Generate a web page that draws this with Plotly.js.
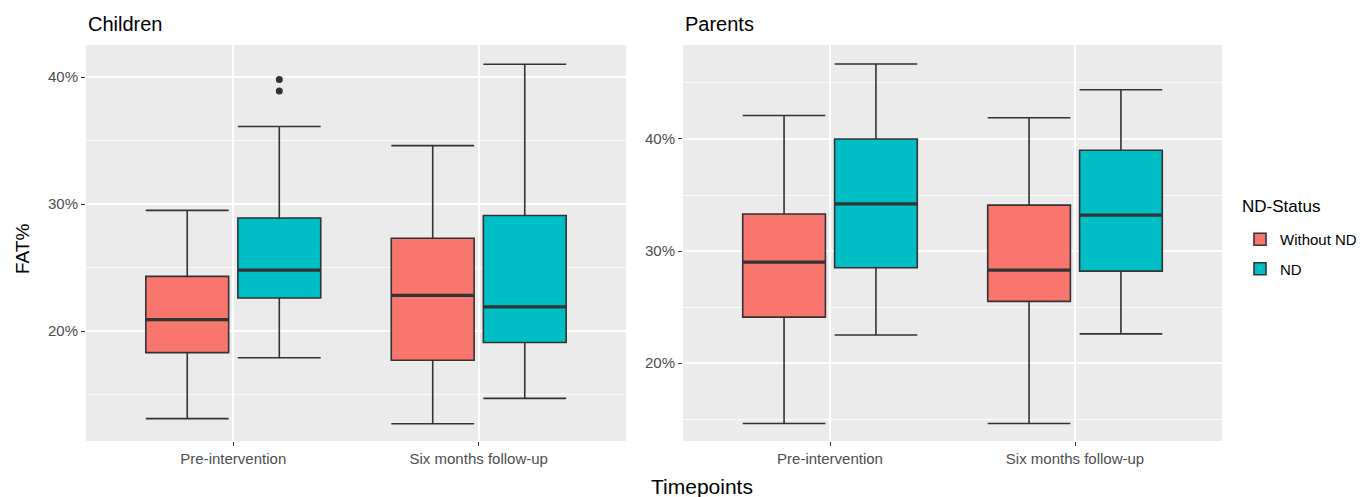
<!DOCTYPE html>
<html>
<head>
<meta charset="utf-8">
<script src="https://cdn.plot.ly/plotly-3.0.1.min.js"></script>
<style>html,body{margin:0;padding:0;background:#fff;}#chart{width:1365px;height:497px;}</style>
</head>
<body>
<div id="chart"></div>
<script>
// ---- data (FAT %) ----
const timepoints = ["Pre-intervention", "Six months follow-up"];
const groups = ["Without ND", "ND"];

// Children
const childWithoutLower  = [13.1, 12.7];
const childWithoutQ1     = [18.3, 17.7];
const childWithoutMedian = [20.9, 22.8];
const childWithoutQ3     = [24.3, 27.3];
const childWithoutUpper  = [29.5, 34.6];

const childNDLower  = [17.9, 14.7];
const childNDQ1     = [22.6, 19.1];
const childNDMedian = [24.8, 21.9];
const childNDQ3     = [28.9, 29.1];
const childNDUpper  = [36.1, 41.0];

const childNDOutlierTime = [0, 0];
const childNDOutliers    = [39.8, 38.9];

// Parents
const parentWithoutLower  = [14.6, 14.6];
const parentWithoutQ1     = [24.1, 25.5];
const parentWithoutMedian = [29.0, 28.3];
const parentWithoutQ3     = [33.3, 34.1];
const parentWithoutUpper  = [42.1, 41.9];

const parentNDLower  = [22.5, 22.6];
const parentNDQ1     = [28.5, 28.2];
const parentNDMedian = [34.2, 33.2];
const parentNDQ3     = [40.0, 39.0];
const parentNDUpper  = [46.7, 44.4];

// ---- style ----
const RED = "#F8766D", TEAL = "#00BFC4", DARK = "#333333";
const BOXGAP = 0.25, GROUPGAP = 0.1;
const positions = timepoints.map((_, i) => i);
const dodge = (1 - BOXGAP) / 4; // centre offset of each group inside a category

function boxTrace(name, color, xa, ya, lo, q1, med, q3, up, showlegend, og) {
  return {
    type: "box", name: name, legendgroup: name, showlegend: showlegend,
    x: positions, lowerfence: lo, q1: q1, median: med, q3: q3, upperfence: up,
    fillcolor: color, line: {color: DARK, width: 1.6}, whiskerwidth: 1,
    offsetgroup: og, alignmentgroup: xa, boxpoints: false,
    xaxis: xa, yaxis: ya, hoverinfo: "skip"
  };
}
function medianTrace(xa, ya, med, og) {
  return {
    type: "box", showlegend: false,
    x: positions, lowerfence: med, q1: med, median: med, q3: med, upperfence: med,
    fillcolor: "rgba(0,0,0,0)", line: {color: DARK, width: 3.2}, whiskerwidth: 1,
    offsetgroup: og, alignmentgroup: xa, boxpoints: false,
    xaxis: xa, yaxis: ya, hoverinfo: "skip"
  };
}

const traces = [
  boxTrace(groups[0], RED, "x", "y", childWithoutLower, childWithoutQ1, childWithoutMedian, childWithoutQ3, childWithoutUpper, true, "A"),
  boxTrace(groups[1], TEAL, "x", "y", childNDLower, childNDQ1, childNDMedian, childNDQ3, childNDUpper, true, "B"),
  boxTrace(groups[0], RED, "x2", "y2", parentWithoutLower, parentWithoutQ1, parentWithoutMedian, parentWithoutQ3, parentWithoutUpper, false, "A"),
  boxTrace(groups[1], TEAL, "x2", "y2", parentNDLower, parentNDQ1, parentNDMedian, parentNDQ3, parentNDUpper, false, "B"),
  medianTrace("x", "y", childWithoutMedian, "A"),
  medianTrace("x", "y", childNDMedian, "B"),
  medianTrace("x2", "y2", parentWithoutMedian, "A"),
  medianTrace("x2", "y2", parentNDMedian, "B"),
  {
    type: "scatter", mode: "markers", showlegend: false, hoverinfo: "skip",
    x: childNDOutlierTime.map(i => i + dodge), y: childNDOutliers,
    marker: {color: DARK, size: 7}, xaxis: "x", yaxis: "y", cliponaxis: false
  }
];

const W = 1365, H = 497;
const FONT = "Liberation Sans, Arial, sans-serif";
function xAxis(domain, anchor) {
  return {
    domain: domain, anchor: anchor, range: [-0.6, 1.6], fixedrange: true,
    tickmode: "array", tickvals: positions, ticktext: timepoints,
    showgrid: true, gridcolor: "#FFFFFF", gridwidth: 1.6, zeroline: false, showline: false,
    ticks: "outside", ticklen: 4, tickwidth: 1, tickcolor: DARK,
    tickfont: {family: FONT, size: 15, color: "#4D4D4D"}
  };
}
function yAxis(domain, anchor, range) {
  return {
    domain: domain, anchor: anchor, range: range, fixedrange: true,
    tickmode: "linear", tick0: 0, dtick: 10, ticksuffix: "%",
    showgrid: true, gridcolor: "#FFFFFF", gridwidth: 1.6, zeroline: false, showline: false,
    ticks: "outside", ticklen: 4, tickwidth: 1, tickcolor: DARK,
    tickfont: {family: FONT, size: 15, color: "#4D4D4D"},
    minor: {dtick: 5, tick0: 0, showgrid: true, gridcolor: "#FFFFFF", gridwidth: 0.8, ticks: ""}
  };
}

const yDom = [1 - 441 / H, 1 - 45 / H];
const layout = {
  width: W, height: H,
  margin: {l: 0, r: 0, t: 0, b: 0},
  paper_bgcolor: "#FFFFFF", plot_bgcolor: "#EBEBEB",
  font: {family: FONT, color: "#000"},
  boxmode: "group", boxgap: BOXGAP, boxgroupgap: GROUPGAP,
  xaxis: xAxis([86 / W, 626 / W], "y"),
  yaxis: yAxis(yDom, "x", [11.34, 42.52]),
  xaxis2: xAxis([683 / W, 1222 / W], "y2"),
  yaxis2: yAxis(yDom, "x2", [13.04, 48.39]),
  showlegend: true,
  legend: {
    x: 1240 / W, xanchor: "left", y: 1 - 223 / H, yanchor: "top",
    bgcolor: "rgba(0,0,0,0)", borderwidth: 0,
    font: {family: FONT, size: 15, color: "#000"},
    tracegroupgap: 7, itemwidth: 30
  },
  annotations: [
    {text: "Children", x: 86 / W, y: 1 - 24 / H, xref: "paper", yref: "paper", xanchor: "left", yanchor: "middle", showarrow: false, font: {family: FONT, size: 20, color: "#000"}},
    {text: "Parents", x: 683 / W, y: 1 - 24 / H, xref: "paper", yref: "paper", xanchor: "left", yanchor: "middle", showarrow: false, font: {family: FONT, size: 20, color: "#000"}},
    {text: "Timepoints", x: 702 / W, y: 1 - 486 / H, xref: "paper", yref: "paper", xanchor: "center", yanchor: "middle", showarrow: false, font: {family: FONT, size: 21, color: "#000"}},
    {text: "FAT%", x: 23 / W, y: 1 - 249 / H, xref: "paper", yref: "paper", xanchor: "center", yanchor: "middle", textangle: -90, showarrow: false, font: {family: FONT, size: 19, color: "#000"}},
    {text: "ND-Status", x: 1240 / W, y: 1 - 206 / H, xref: "paper", yref: "paper", xanchor: "left", yanchor: "middle", showarrow: false, font: {family: FONT, size: 17, color: "#000"}}
  ]
};

Plotly.newPlot("chart", traces, layout, {displayModeBar: false, staticPlot: true});
</script>
</body>
</html>
